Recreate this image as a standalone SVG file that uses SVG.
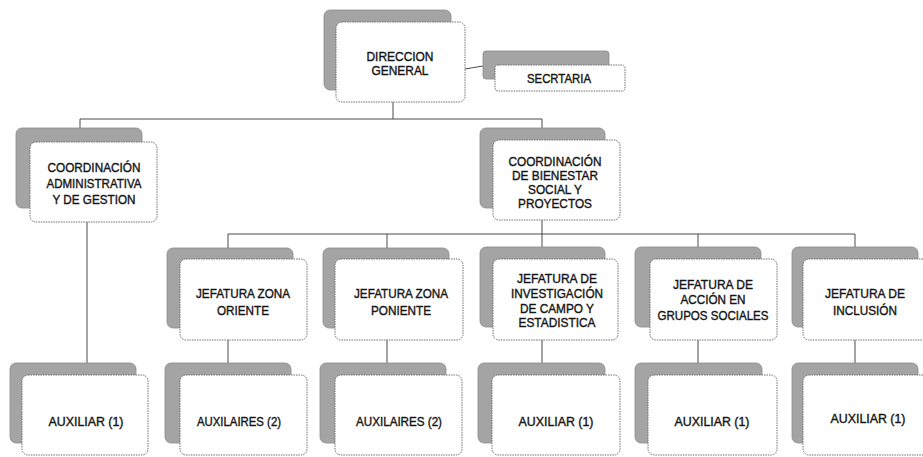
<svg xmlns="http://www.w3.org/2000/svg" width="923" height="457" viewBox="0 0 923 457">
<style>
.sh{fill:#a4a4a4;stroke:#8a8a8a;stroke-width:0.8}
.fr{fill:#ffffff;stroke:#6e6e6e;stroke-width:1;stroke-dasharray:1.5 1}
.c{fill:none;stroke:#4a4a4a;stroke-width:1}
text{font-family:"Liberation Sans",Arial,sans-serif;font-size:13.5px;fill:#151515;text-anchor:middle;stroke:#151515;stroke-width:0.4}
</style>
<rect width="923" height="457" fill="#ffffff"/>
<g id="connectors">
<path class="c" d="M393,102V119M80,119H542M80,119V142M542,119V140"/>
<path class="c" d="M87,222V375"/>
<path class="c" d="M542,220V234M228,234H855M228,234V259M387,234V259M542,234V259M698,234V259M855,234V259"/>
<path class="c" d="M228,340V375M387,340V375M542,340V375M698,340V375M855,340V375"/>
<path class="c" d="M465,69L483,66"/>
</g>
<g id="direccion">
<rect class="sh" x="324" y="10" width="127" height="80" rx="6"/>
<rect class="fr" x="336" y="22" width="129" height="80" rx="6"/>
<text x="400" y="61" textLength="67" lengthAdjust="spacingAndGlyphs">DIRECCION</text>
<text x="400" y="75" textLength="57" lengthAdjust="spacingAndGlyphs">GENERAL</text>
</g>
<g id="secretaria">
<rect class="sh" x="483" y="51" width="126" height="28" rx="3"/>
<rect class="fr" x="495" y="65" width="130" height="26" rx="3"/>
<text x="559" y="83" textLength="64" lengthAdjust="spacingAndGlyphs">SECRTARIA</text>
</g>
<g id="coord-admin">
<rect class="sh" x="16" y="128" width="126" height="80" rx="6"/>
<rect class="fr" x="30" y="142" width="127" height="80" rx="6"/>
<text x="94" y="172" textLength="93" lengthAdjust="spacingAndGlyphs">COORDINACIÓN</text>
<text x="94" y="188" textLength="95" lengthAdjust="spacingAndGlyphs">ADMINISTRATIVA</text>
<text x="94" y="204" textLength="83" lengthAdjust="spacingAndGlyphs">Y DE GESTION</text>
</g>
<g id="coord-bienestar">
<rect class="sh" x="480" y="128" width="125" height="80" rx="6"/>
<rect class="fr" x="493" y="140" width="127" height="80" rx="6"/>
<text x="555" y="166" textLength="93" lengthAdjust="spacingAndGlyphs">COORDINACIÓN</text>
<text x="555" y="180" textLength="86" lengthAdjust="spacingAndGlyphs">DE BIENESTAR</text>
<text x="555" y="194" textLength="54" lengthAdjust="spacingAndGlyphs">SOCIAL Y</text>
<text x="555" y="208" textLength="74" lengthAdjust="spacingAndGlyphs">PROYECTOS</text>
</g>
<g id="jef-oriente">
<rect class="sh" x="167" y="248" width="126" height="80" rx="6"/>
<rect class="fr" x="180" y="259" width="127" height="81" rx="6"/>
<text x="243" y="298" textLength="94" lengthAdjust="spacingAndGlyphs">JEFATURA ZONA</text>
<text x="243" y="315" textLength="52" lengthAdjust="spacingAndGlyphs">ORIENTE</text>
</g>
<g id="jef-poniente">
<rect class="sh" x="323" y="248" width="126" height="80" rx="6"/>
<rect class="fr" x="335" y="259" width="128" height="81" rx="6"/>
<text x="401" y="298" textLength="94" lengthAdjust="spacingAndGlyphs">JEFATURA ZONA</text>
<text x="401" y="315" textLength="60" lengthAdjust="spacingAndGlyphs">PONIENTE</text>
</g>
<g id="jef-investigacion">
<rect class="sh" x="480" y="247" width="125" height="80" rx="6"/>
<rect class="fr" x="493" y="259" width="125" height="81" rx="6"/>
<text x="557" y="283" textLength="80" lengthAdjust="spacingAndGlyphs">JEFATURA DE</text>
<text x="557" y="298" textLength="92" lengthAdjust="spacingAndGlyphs">INVESTIGACIÓN</text>
<text x="557" y="313" textLength="74" lengthAdjust="spacingAndGlyphs">DE CAMPO Y</text>
<text x="557" y="327" textLength="77" lengthAdjust="spacingAndGlyphs">ESTADISTICA</text>
</g>
<g id="jef-accion">
<rect class="sh" x="635" y="247" width="126" height="80" rx="6"/>
<rect class="fr" x="650" y="259" width="127" height="81" rx="6"/>
<text x="713" y="289" textLength="80" lengthAdjust="spacingAndGlyphs">JEFATURA DE</text>
<text x="713" y="304" textLength="65" lengthAdjust="spacingAndGlyphs">ACCIÓN EN</text>
<text x="713" y="320" textLength="111" lengthAdjust="spacingAndGlyphs">GRUPOS SOCIALES</text>
</g>
<g id="jef-inclusion">
<rect class="sh" x="792" y="247" width="126" height="80" rx="6"/>
<rect class="fr" x="803" y="259" width="126" height="81" rx="6"/>
<text x="865" y="298" textLength="80" lengthAdjust="spacingAndGlyphs">JEFATURA DE</text>
<text x="865" y="315" textLength="64" lengthAdjust="spacingAndGlyphs">INCLUSIÓN</text>
</g>
<g id="aux-admin">
<rect class="sh" x="10" y="363" width="126" height="80" rx="6"/>
<rect class="fr" x="22" y="375" width="126" height="80" rx="6"/>
<text x="86" y="426" textLength="75" lengthAdjust="spacingAndGlyphs">AUXILIAR (1)</text>
</g>
<g id="aux-oriente">
<rect class="sh" x="165" y="363" width="126" height="80" rx="6"/>
<rect class="fr" x="180" y="375" width="127" height="80" rx="6"/>
<text x="239" y="426" textLength="84" lengthAdjust="spacingAndGlyphs">AUXILAIRES (2)</text>
</g>
<g id="aux-poniente">
<rect class="sh" x="320" y="363" width="126" height="80" rx="6"/>
<rect class="fr" x="335" y="375" width="127" height="80" rx="6"/>
<text x="399" y="426" textLength="86" lengthAdjust="spacingAndGlyphs">AUXILAIRES (2)</text>
</g>
<g id="aux-investigacion">
<rect class="sh" x="478" y="363" width="127" height="80" rx="6"/>
<rect class="fr" x="492" y="375" width="128" height="80" rx="6"/>
<text x="556" y="426" textLength="75" lengthAdjust="spacingAndGlyphs">AUXILIAR (1)</text>
</g>
<g id="aux-accion">
<rect class="sh" x="635" y="363" width="127" height="80" rx="6"/>
<rect class="fr" x="648" y="375" width="129" height="80" rx="6"/>
<text x="712" y="426" textLength="75" lengthAdjust="spacingAndGlyphs">AUXILIAR (1)</text>
</g>
<g id="aux-inclusion">
<rect class="sh" x="792" y="363" width="126" height="80" rx="6"/>
<rect class="fr" x="803" y="375" width="126" height="80" rx="6"/>
<text x="868" y="423" textLength="75" lengthAdjust="spacingAndGlyphs">AUXILIAR (1)</text>
</g>
</svg>
